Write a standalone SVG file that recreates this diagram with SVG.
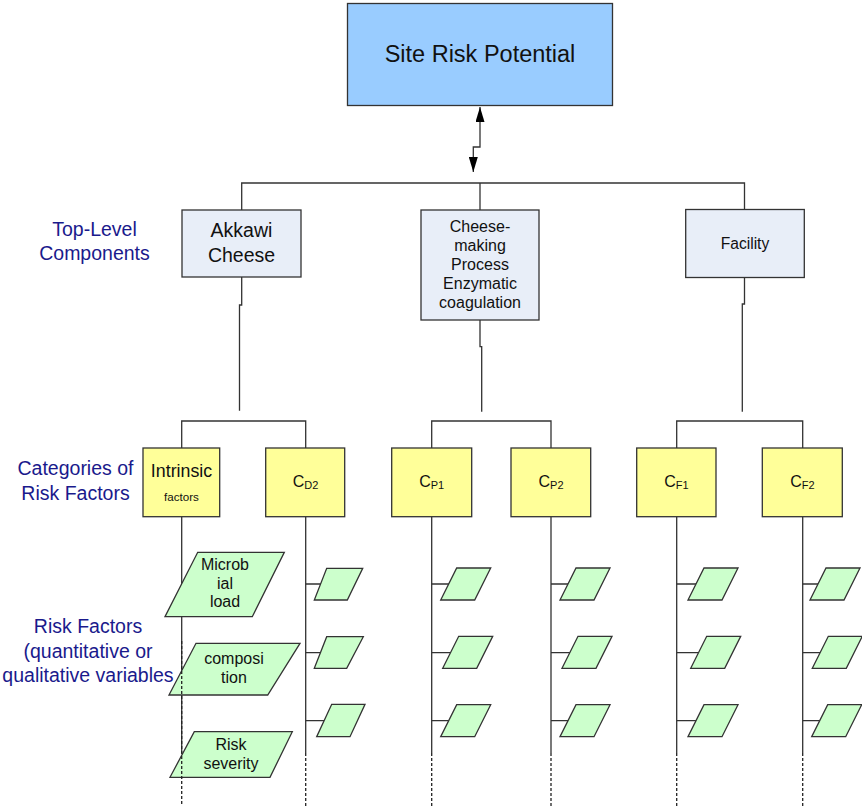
<svg xmlns="http://www.w3.org/2000/svg" width="862" height="808" viewBox="0 0 862 808">
  <defs>
    <style>
      text { font-family: "Liberation Sans", Arial, sans-serif; fill: #111; }
      .lbl { fill: #1a1a8c; font-size: 19.5px; text-anchor: middle; }
      .mid { text-anchor: middle; }
      .ln { fill: none; stroke: #333; stroke-width: 1.3; }
      .dash { fill: none; stroke: #222; stroke-width: 1.3; stroke-dasharray: 3 2; }
      .top { fill: #99ccff; stroke: #333; stroke-width: 1.3; }
      .comp { fill: #e8eef8; stroke: #333; stroke-width: 1.3; }
      .cat { fill: #ffff99; stroke: #333; stroke-width: 1.3; }
      .fac { fill: #ccffcc; stroke: #333; stroke-width: 1.3; }
    </style>
    <marker id="ah" viewBox="0 0 15 9" refX="15" refY="4.5" markerWidth="15" markerHeight="9" markerUnits="userSpaceOnUse" orient="auto-start-reverse">
      <path d="M0,0 L15,4.5 L0,9 Z" fill="#000"/>
    </marker>
    <!-- small risk-factor parallelogram, origin at bottom-left corner -->
    <polygon id="pg" points="0,0 34,0 50,-32 16,-32"/>
  </defs>

  <!-- side labels -->
  <g id="labels">
    <text class="lbl" x="94.5" y="236">Top-Level</text>
    <text class="lbl" x="94.5" y="260">Components</text>
    <text class="lbl" x="75.5" y="475">Categories of</text>
    <text class="lbl" x="75.5" y="500">Risk Factors</text>
    <text class="lbl" x="88" y="633">Risk Factors</text>
    <text class="lbl" x="88" y="658">(quantitative or</text>
    <text class="lbl" x="88" y="682">qualitative variables</text>
  </g>

  <!-- connectors -->
  <g id="connectors">
    <path class="ln" d="M480,107 L480,147 L473.3,147 L473.3,172" marker-start="url(#ah)" marker-end="url(#ah)"/>
    <path class="ln" d="M241.7,210 L241.7,183 L744.5,183 L744.5,210"/>
    <path class="ln" d="M480,183 L480,210"/>
    <path class="ln" d="M241.7,277 L241.7,305 L239.5,305 L239.5,410.7"/>
    <path class="ln" d="M480,320 L480,346.7 L481.7,346.7 L481.7,411.7"/>
    <path class="ln" d="M744.5,277.7 L744.5,304 L742.3,304 L742.3,411.7"/>
    <!-- category bus lines -->
    <path class="ln" d="M181.7,448 L181.7,421 L305.7,421 L305.7,448"/>
    <path class="ln" d="M431.7,448 L431.7,421 L551,421 L551,448"/>
    <path class="ln" d="M676.7,448 L676.7,421 L802.7,421 L802.7,448"/>
    <!-- column spines -->
    <path class="ln" d="M181.7,517 V753 M305.7,517 V753 M431.7,517 V753 M551,517 V753 M676.7,517 V753 M802.7,517 V753"/>
    <!-- stubs to small factors -->
    <path class="ln" d="M305.7,584 H321 M305.7,652.7 H321 M305.7,720.7 H324
                        M431.7,584 H449 M431.7,652.7 H451 M431.7,720.7 H449
                        M551,584 H568 M551,652.7 H570 M551,720.7 H568
                        M676.7,584 H696 M676.7,652.7 H698.7 M676.7,720.7 H696
                        M802.7,584 H818 M802.7,652.7 H820.3 M802.7,720.7 H819.7"/>
  </g>

  <!-- top goal -->
  <g id="site-risk">
    <rect class="top" x="347.5" y="3.5" width="265" height="102"/>
    <text class="mid" x="480" y="62" font-size="23.5">Site Risk Potential</text>
  </g>

  <!-- top-level components -->
  <g id="akkawi">
    <rect class="comp" x="182" y="210" width="119" height="67"/>
    <text class="mid" x="241.5" y="237" font-size="19.5">Akkawi</text>
    <text class="mid" x="241.5" y="262" font-size="19.5">Cheese</text>
  </g>
  <g id="process">
    <rect class="comp" x="421" y="210" width="118" height="110"/>
    <text class="mid" x="480" y="231.5" font-size="16">Cheese-</text>
    <text class="mid" x="480" y="250.5" font-size="16">making</text>
    <text class="mid" x="480" y="270" font-size="16">Process</text>
    <text class="mid" x="480" y="289" font-size="16">Enzymatic</text>
    <text class="mid" x="480" y="307.5" font-size="16">coagulation</text>
  </g>
  <g id="facility">
    <rect class="comp" x="685.7" y="209.5" width="118.6" height="68"/>
    <text class="mid" x="745" y="249" font-size="15.6">Facility</text>
  </g>

  <!-- categories -->
  <g id="intrinsic">
    <rect class="cat" x="143" y="448" width="76.7" height="68.7"/>
    <text class="mid" x="181.5" y="476.7" font-size="17.8">Intrinsic</text>
    <text class="mid" x="181.5" y="500.7" font-size="11.6">factors</text>
  </g>
  <g id="cd2">
    <rect class="cat" x="265.7" y="448" width="79" height="68.7"/>
    <text class="mid" x="305.5" y="487" font-size="16">C<tspan font-size="11" dy="2">D2</tspan></text>
  </g>
  <g id="cp1">
    <rect class="cat" x="391.7" y="448" width="80" height="68.7"/>
    <text class="mid" x="431.7" y="487" font-size="16">C<tspan font-size="11" dy="2">P1</tspan></text>
  </g>
  <g id="cp2">
    <rect class="cat" x="511" y="448" width="79.7" height="68.7"/>
    <text class="mid" x="551" y="487" font-size="16">C<tspan font-size="11" dy="2">P2</tspan></text>
  </g>
  <g id="cf1">
    <rect class="cat" x="636.7" y="448" width="79.3" height="68.7"/>
    <text class="mid" x="676.5" y="487" font-size="16">C<tspan font-size="11" dy="2">F1</tspan></text>
  </g>
  <g id="cf2">
    <rect class="cat" x="762.3" y="448" width="80" height="68.7"/>
    <text class="mid" x="802.5" y="487" font-size="16">C<tspan font-size="11" dy="2">F2</tspan></text>
  </g>

  <!-- intrinsic risk factors -->
  <g id="microbial">
    <polygon class="fac" points="165,616.7 252.3,616.7 284.3,552.3 197.7,552.3"/>
    <text class="mid" x="225" y="570" font-size="16">Microb</text>
    <text class="mid" x="225" y="588.5" font-size="16">ial</text>
    <text class="mid" x="225" y="607" font-size="16">load</text>
  </g>
  <g id="composition">
    <polygon class="fac" points="169,695 267.7,695 300,643.3 196,643.3"/>
    <text class="mid" x="234" y="664" font-size="16">composi</text>
    <text class="mid" x="234" y="683" font-size="16">tion</text>
  </g>
  <g id="severity">
    <polygon class="fac" points="170,777.3 270,777.3 292.3,731.7 194.3,731.7"/>
    <text class="mid" x="231" y="750" font-size="16">Risk</text>
    <text class="mid" x="231" y="768.5" font-size="16">severity</text>
  </g>

  <!-- small factors per category -->
  <g id="cd2-factors" class="fac">
    <polygon points="314.3,600 347.3,600 362.7,568.3 326.7,568.3"/>
    <polygon points="314.3,668.3 346.7,668.3 363.3,636.7 326.7,636.7"/>
    <polygon points="316.7,736.7 350,736.7 365,704.3 331.7,704.3"/>
  </g>
  <g id="cp1-factors" class="fac">
    <use href="#pg" x="440.7" y="600"/>
    <use href="#pg" x="442.7" y="668.3"/>
    <use href="#pg" x="440.7" y="736.7"/>
  </g>
  <g id="cp2-factors" class="fac">
    <use href="#pg" x="560" y="600"/>
    <use href="#pg" x="562" y="668.3"/>
    <use href="#pg" x="560" y="736.7"/>
  </g>
  <g id="cf1-factors" class="fac">
    <use href="#pg" x="688" y="600"/>
    <use href="#pg" x="690.7" y="668.3"/>
    <use href="#pg" x="688" y="736.7"/>
  </g>
  <g id="cf2-factors" class="fac">
    <use href="#pg" x="810" y="600"/>
    <use href="#pg" x="812.3" y="668.3"/>
    <use href="#pg" x="811.7" y="736.7"/>
  </g>

  <!-- continuation of each column -->
  <g id="continuations">
    <path class="dash" d="M181.7,641 V806 M305.7,753 V806 M431.7,753 V806 M551,753 V806 M676.7,753 V806 M802.7,753 V806"/>
  </g>
</svg>
